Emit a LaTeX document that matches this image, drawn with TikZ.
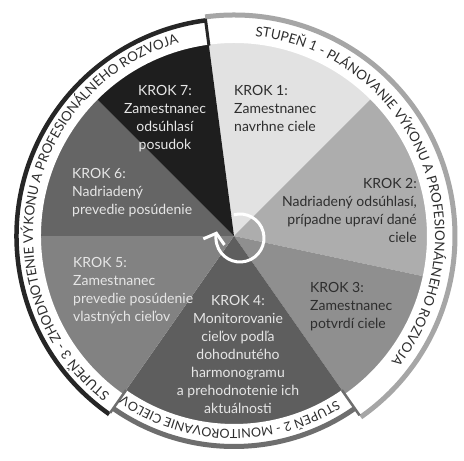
\documentclass[tikz,border=0pt]{standalone}
\usepackage{fontspec}
\setmainfont{Lato}
\usetikzlibrary{decorations.text,arrows.meta}

% wedge shades, from light to dark
\definecolor{krok1}{HTML}{E2E2E2}
\definecolor{krok2}{HTML}{ADADAD}
\definecolor{krok3}{HTML}{8F8F8F}
\definecolor{krok4}{HTML}{5E5E5E}
\definecolor{krok5}{HTML}{828282}
\definecolor{krok6}{HTML}{656565}
\definecolor{krok7}{HTML}{1E1E1E}
\definecolor{textdark}{HTML}{2E2E2E}
\definecolor{textlight}{HTML}{E6E6E6}
\definecolor{rimone}{HTML}{A6A6A6}
\definecolor{rimtwo}{HTML}{6E6E6E}
\definecolor{rimthree}{HTML}{262626}

\newcommand\ringfont{\fontsize{13.4}{13.4}\selectfont}
\newcommand\ringsmall{\fontsize{12.6}{12.6}\selectfont}

\begin{document}
\begin{tikzpicture}[x=1pt,y=1pt,
  krok/.style={inner sep=0pt, font=\fontsize{14}{18}\selectfont},
  dark/.style={krok, text=textdark},
  light/.style={krok, text=textlight},
  band/.style={fill=white},
  ringlabel/.style={decorate, decoration={text along path, text align=left,
    text color=textdark, text={#1}}}]
\useasboundingbox (-234,-225) rectangle (230,236);

% 7 kroky : from / to / shade
\foreach \a/\b/\c in {45/97.5/krok1, -12/45/krok2, -55/-12/krok3,
    -125/-55/krok4, 180/235/krok5, 135/180/krok6, 97.5/135/krok7}{
  \fill[\c] (0,0) -- (\a:222) arc[start angle=\a, end angle=\b, radius=222pt] -- cycle;
}

% ring of the 3 stupne
\fill[band] (97.5:193) arc[start angle=97.5, end angle=-55, radius=193pt]
  -- (-55:224) arc[start angle=-55, end angle=97.5, radius=224pt] -- cycle;
\fill[band] (-55:188) arc[start angle=-55, end angle=-125, radius=188pt]
  -- (-125:224) arc[start angle=-125, end angle=-55, radius=224pt] -- cycle;
\fill[band] (-125:193) arc[start angle=-125, end angle=-262.5, radius=193pt]
  -- (97.5:224) arc[start angle=97.5, end angle=235, radius=224pt] -- cycle;

\draw[rimone, line width=5pt] (97.5:221) arc[start angle=97.5, end angle=-55, radius=221pt];
\draw[rimtwo, line width=5pt] (-55:210.5) arc[start angle=-55, end angle=-125, radius=210.5pt];
\draw[rimthree, line width=4.5pt] (-125:217.5) arc[start angle=-125, end angle=-262.5, radius=217.5pt];
% separators
\draw[rimthree, line width=3pt] (97.5:192) -- (97.5:219);
\draw[rimtwo, line width=2.5pt] (-55:188) -- (-55:219);
\draw[rimtwo, line width=2.5pt] (-125:188) -- (-125:216);

% texts along the ring
\path[ringlabel={|\ringfont|STUPEŇ 1 - PLÁNOVANIE VÝKONU A PROFESIONÁLNEHO ROZVOJA}]
  (84:201) arc[start angle=84, end angle=-52, radius=201pt];
\path[ringlabel={|\ringsmall|STUPEŇ 2 - MONITOROVANIE CIEĽOV}]
  (-58:193.5) arc[start angle=-58, end angle=-124, radius=193.5pt];
\path[ringlabel={|\ringfont|STUPEŇ 3 - ZHODNOTENIE VÝKONU A PROFESIONÁLNEHO ROZVOJA}]
  (232:201) arc[start angle=232, end angle=96, radius=201pt];

% kroky
\node[dark, anchor=north west, align=left] (kroka) at (0,151) {KROK 1:\\Zamestnanec\\navrhne ciele};
\node[dark, anchor=north east, align=right] (krokb) at (183,58) {KROK 2:\\Nadriadený odsúhlasí,\\prípadne upraví dané\\ciele};
\node[dark, anchor=north west, align=left] (krokc) at (76,-46) {KROK 3:\\Zamestnanec\\potvrdí ciele};
\node[light, anchor=north, align=center] (krokd) at (4,-59) {KROK 4:\\Monitorovanie\\cieľov podľa\\dohodnutého\\harmonogramu\\a prehodnotenie ich\\aktuálnosti};
\node[light, anchor=north west, align=left] (kroke) at (-161,-21) {KROK 5:\\Zamestnanec\\prevedie posúdenie\\vlastných cieľov};
\node[light, anchor=north west, align=left] (krokf) at (-162,68) {KROK 6:\\Nadriadený\\prevedie posúdenie};
\node[light, anchor=north, align=center] (krokg) at (-69,151) {KROK 7:\\Zamestnanec\\odsúhlasí\\posudok};

% cyklus v strede
\draw[white, line width=3pt, -{Straight Barb[length=9pt, width=22pt]}]
  (6,-2) ++(105:24) arc[start angle=105, end angle=-196, radius=24pt];
\end{tikzpicture}
\end{document}
